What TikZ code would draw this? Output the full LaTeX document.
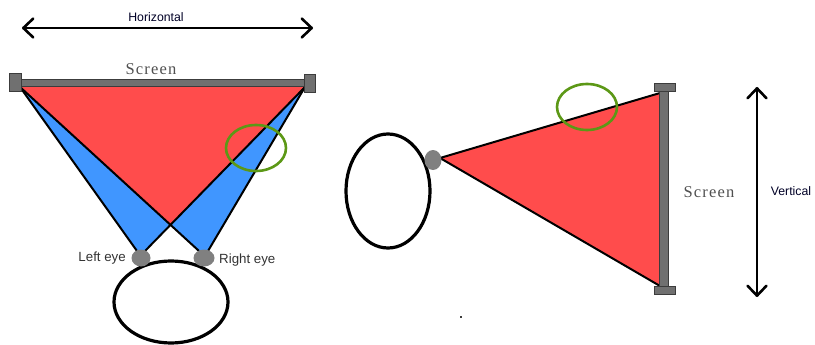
\documentclass[tikz,border=0pt]{standalone}
\usepackage{fontspec}
\setmainfont{Liberation Sans}
\newfontfamily\scrfont[LetterSpace=7]{Liberation Serif}
\usetikzlibrary{arrows.meta}
\definecolor{scrred}{RGB}{255,76,76}
\definecolor{eyeblue}{RGB}{64,150,255}
\definecolor{eyegray}{RGB}{128,128,128}
\definecolor{bargray}{RGB}{112,112,112}
\definecolor{bardark}{RGB}{60,60,60}
\definecolor{ringgreen}{RGB}{92,152,22}
\definecolor{txtgray}{RGB}{80,80,80}
\tikzset{
  ray/.style={draw=black,line width=2pt},
  head/.style={draw=black,line width=3.2pt,fill=white},
  eye/.style={fill=eyegray,draw=none},
  bar/.style={fill=bargray,draw=bardark,line width=1pt},
  ring/.style={draw=ringgreen,line width=2.6pt},
  dimarrow/.style={line width=2.6pt,line cap=round,{Straight Barb[round,length=10pt,width=19pt]}-{Straight Barb[round,length=10pt,width=19pt]}},
  labeltxt/.style={font=\fontsize{13.3}{15}\selectfont,text=black!80,inner sep=0pt},
  dimtxt/.style={font=\fontsize{12.3}{14}\selectfont,text=black!85!blue,inner sep=0pt},
  scrtxt/.style={font=\fontsize{16.5}{18}\selectfont\scrfont,text=txtgray,inner sep=0pt}
}
\begin{document}
\begin{tikzpicture}[x=1pt,y=-1pt]
\useasboundingbox (0,0) rectangle (815,345);
% ---------- left diagram ----------
\coordinate (TL) at (20,87);
\coordinate (TR) at (305,87);
\coordinate (LEa) at (137,251);
\coordinate (LEb) at (145,251);
\coordinate (REa) at (199,251);
\coordinate (REb) at (208,251);
\coordinate (X) at (170.4,225);
% blue wedges
\fill[eyeblue] (TL) -- (LEa) -- (LEb) -- (TR) -- cycle;
\fill[eyeblue] (TL) -- (REa) -- (REb) -- (TR) -- cycle;
% red common field
\fill[scrred] (TL) -- (TR) -- (X) -- cycle;
% ray lines
\draw[ray] (TL) -- (LEa);
\draw[ray] (TR) -- (LEb);
\draw[ray] (TL) -- (REa);
\draw[ray] (TR) -- (REb);
% head and eyes
\draw[head] (171,302) ellipse [x radius=57pt, y radius=41pt];
\fill[eye] (141,258) ellipse [x radius=9.5pt, y radius=8.5pt];
\fill[eye] (204,258) ellipse [x radius=10.5pt, y radius=8.5pt];
\node[labeltxt,anchor=east] (lefteye) at (126,258) {Left eye};
\node[labeltxt,anchor=west] (righteye) at (219,260) {Right eye};
% screen bar
\draw[bar] (20,80) rectangle (305,87);
\draw[bar] (9,74) rectangle (21,92);
\draw[bar] (304,75) rectangle (315,93);
\node[scrtxt] (screen1) at (151,69) {Screen};
% horizontal dimension
\coordinate (HL) at (22,28);
\coordinate (HR) at (313,28);
\draw[dimarrow] (HL) -- (HR);
\node[dimtxt] (horiz) at (156,17) {Horizontal};
% green ring
\draw[ring] (256,148) ellipse [x radius=30pt, y radius=23pt];
% ---------- right diagram ----------
\draw[head] (388,191) ellipse [x radius=42pt, y radius=57pt];
\coordinate (AP) at (440,158);
\coordinate (ST) at (660,93);
\coordinate (SB) at (660,286);
\fill[scrred] (AP) -- (ST) -- (SB) -- cycle;
\draw[ray] (AP) -- (ST);
\draw[ray] (AP) -- (SB);
\fill[eye] (433,160) ellipse [x radius=8.5pt, y radius=10pt];
\draw[bar] (659,92) rectangle (668,286);
\draw[bar] (654,84) rectangle (675,92);
\draw[bar] (654,286) rectangle (675,294);
\node[scrtxt] (screen2) at (709,192) {Screen};
\coordinate (VT) at (757,87);
\coordinate (VB) at (757,297);
\draw[dimarrow] (VT) -- (VB);
\node[dimtxt] (vert) at (791,191) {Vertical};
\draw[ring] (587,107) ellipse [x radius=30pt, y radius=23pt];
% stray dot
\fill[bardark] (460,316) rectangle (462,318);
\end{tikzpicture}
\end{document}
